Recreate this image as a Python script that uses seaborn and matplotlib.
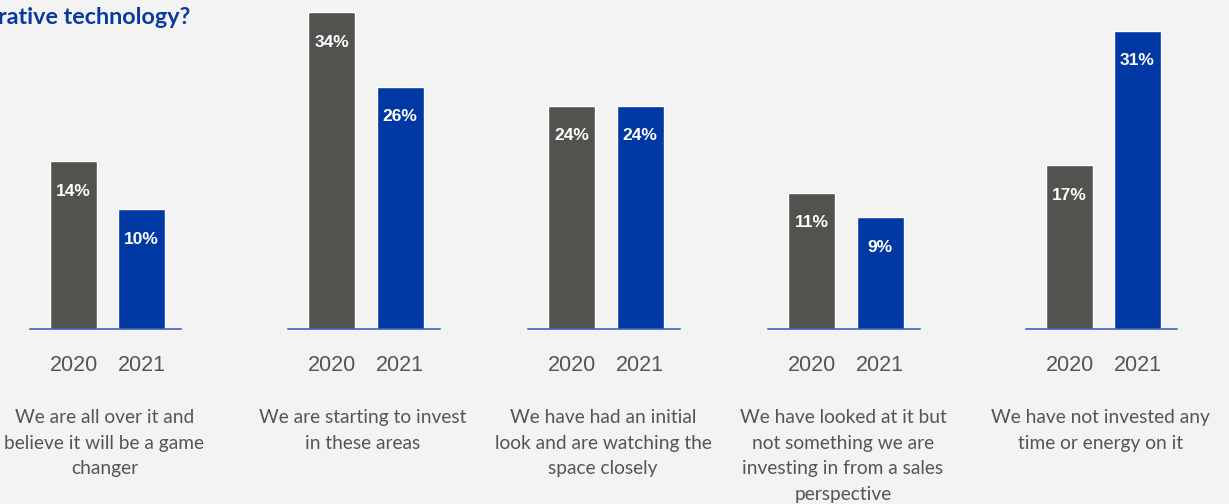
import matplotlib
matplotlib.use("Agg")
import matplotlib.pyplot as plt
import seaborn as sns
import pandas as pd

# Survey answers and share of respondents per year
categories = [
    "We are all over it and\nbelieve it will be a game\nchanger",
    "We are starting to invest\nin these areas",
    "We have had an initial\nlook and are watching the\nspace closely",
    "We have looked at it but\nnot something we are\ninvesting in from a sales\nperspective",
    "We have not invested any\ntime or energy on it",
]
years = ["2020", "2021"]
share_2020 = [14, 34, 24, 11, 17]
share_2021 = [10, 26, 24, 9, 31]

GREY = "#52524f"
BLUE = "#0039a3"
BG = "#f3f3f3"

W, H = 1229, 504
sns.set_theme(style="white")
plt.rcParams["font.family"] = ["Liberation Sans", "DejaVu Sans"]

fig = plt.figure(figsize=(W / 100, H / 100), dpi=100, facecolor=BG)

# panel geometry in pixels: left edge, right edge of each baseline
panel_px = [(30, 181), (288, 440), (528, 680), (768, 920), (1026, 1177)]
# vertical pixels per percentage point in each panel
px_per_pct = [12.0, 9.31, 9.3, 12.4, 9.62]
base_y = 329

for i, cat in enumerate(categories):
    x0, x1 = panel_px[i]
    ax = fig.add_axes([x0 / W, (H - base_y) / H, (x1 - x0) / W, base_y / H])
    ax.set_facecolor(BG)
    df = pd.DataFrame({"year": years, "share": [share_2020[i], share_2021[i]]})
    sns.barplot(data=df, x="year", y="share", hue="year",
                palette=[GREY, BLUE], width=0.69, legend=False,
                saturation=1, ax=ax)
    ax.set_xlim(-0.64, 1.58)
    ax.set_ylim(0, base_y / px_per_pct[i])
    for s in ["top", "right", "left"]:
        ax.spines[s].set_visible(False)
    ax.spines["bottom"].set_color("#2f59c0")
    ax.spines["bottom"].set_linewidth(1.1)
    ax.set_yticks([])
    ax.set_xlabel("")
    ax.set_ylabel("")
    ax.tick_params(axis="x", length=0, pad=19, labelsize=15.5, labelcolor="#555555")
    # value labels inside the top of each bar
    for j, v in enumerate([share_2020[i], share_2021[i]]):
        ax.annotate(f"{v}%", xy=(j, v), xytext=(0, -30), textcoords="offset pixels",
                    ha="center", va="center", color="white", fontsize=12.5,
                    fontweight="bold")
    # answer text under each pair of bars
    fig.text(((x0 + x1) / 2 - 1) / W, 1 - 409 / H, cat, ha="center", va="top",
             fontsize=13.8, color="#555555", linespacing=1.62,
             family=["Lato", "DejaVu Sans"])

fig.text(190 / W, 1 - 17 / H, "rative technology?", ha="right", va="center",
         fontsize=16.8, fontweight="bold", color="#0a3aa0",
         family=["Lato", "DejaVu Sans"])

fig.savefig("out.png", dpi=100, facecolor=BG)
